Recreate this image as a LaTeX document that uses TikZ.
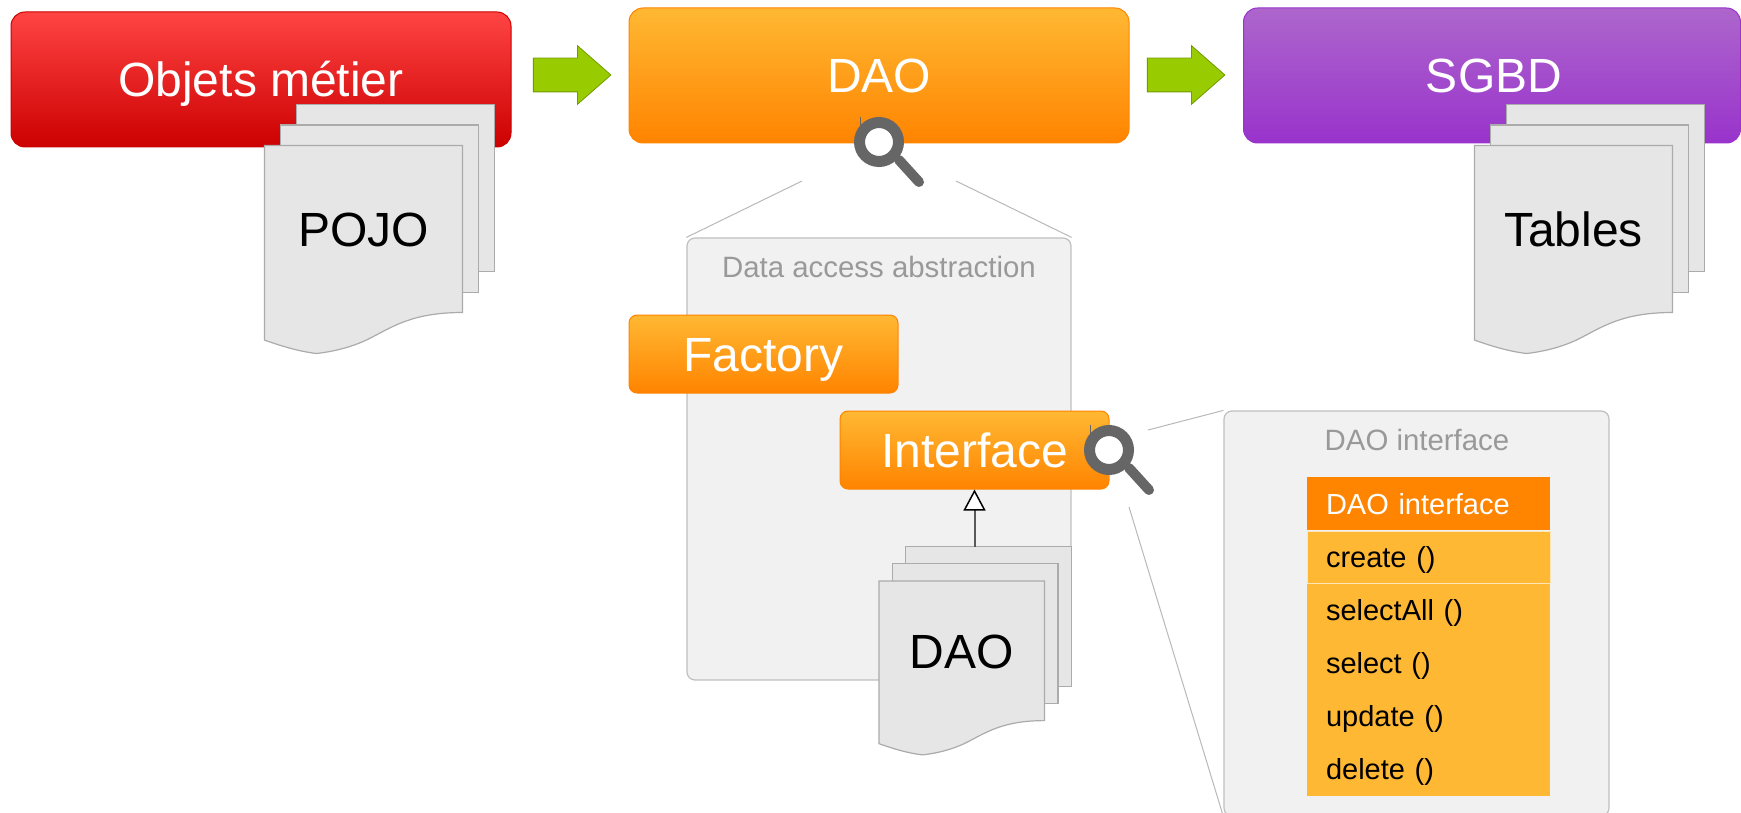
\documentclass[tikz,border=0pt]{standalone}
\usepackage{fontspec}
\setmainfont{Liberation Sans}
\usepackage{xcolor}
\usetikzlibrary{arrows.meta, shapes.arrows}

\definecolor{daotop}{HTML}{FFB833}
\definecolor{daobottom}{HTML}{FF8400}
\definecolor{redtop}{HTML}{FF4444}
\definecolor{redbottom}{HTML}{CC0000}
\definecolor{sgbdtop}{HTML}{AD66CC}
\definecolor{sgbdbottom}{HTML}{9933CC}
\definecolor{panelfill}{HTML}{F1F1F1}
\definecolor{sheetfill}{HTML}{E6E6E6}
\definecolor{flowgreen}{HTML}{99CC00}

\tikzset{
	bigfont/.style = {font = \fontsize{48}{56}\selectfont, text height = 34, text depth = 0},
	smallfont/.style = {font = \fontsize{29.4}{35}\selectfont, text height = 21, text depth = 0},
	block/.style = {bigfont, text = white, inner sep = 0, line width = 1},
	topblock/.style = {block, rounded corners = 14, minimum height = 135},
	subblock/.style = {block, rounded corners = 8, minimum width = 269, minimum height = 78,
		draw = daobottom, top color = daotop, bottom color = daobottom},
	panel/.style = {draw = black!25, fill = panelfill, line width = 1.2, rounded corners = 8, inner sep = 0},
	paneltitle/.style = {smallfont, text = black!40, inner sep = 0},
	zoomline/.style = {draw = black!28, line width = 1},
	sheet/.style = {draw = black!33, fill = sheetfill, line width = 1.2},
	flowarrow/.style = {single arrow, draw = flowgreen!75!black, fill = flowgreen, line width = 0.8, inner sep = 0,
		text height = 16.5, text depth = 16.5, minimum width = 58, minimum height = 77.5,
		single arrow head extend = 12.5, single arrow tip angle = 82.6},
	row/.style = {font = \fontsize{29}{35}\selectfont, text height = 21, text depth = 0, fill = daotop,
		minimum height = 53, text width = 205, inner xsep = 19, inner ysep = 0, align = left}
}

\begin{document}
\begin{tikzpicture}[x = 1pt, y = -1pt]
	\useasboundingbox (0,0) rectangle (1741,813);
	\clip (0,0) rectangle (1741,813);

	\node [topblock, minimum width = 500, draw = redbottom, top color = redtop, bottom color = redbottom] (objets) at (261,79.5) {Objets métier};
	\node [topblock, minimum width = 500, draw = daobottom, top color = daotop, bottom color = daobottom] (dao) at (879,75.5) {DAO};
	\node [topblock, minimum width = 497, draw = sgbdbottom, top color = sgbdtop, bottom color = sgbdbottom] (sgbd) at (1492,75.5) {\hspace*{4pt}SGBD};

	\node [flowarrow] (flowA) at (562.5,75) {};
	\node [flowarrow] (flowB) at (1176.5,75) {};

	\node [panel, minimum width = 384, minimum height = 442] (abstraction) at (879,459) {};
	\node [paneltitle] (abstractiontitle) at (879,267) {Data access abstraction};
	\node [panel, minimum width = 385, minimum height = 405] (interfacepanel) at (1416.5,613.5) {};
	\node [paneltitle] (interfacetitle) at (1417,440) {DAO interface};

	\coordinate (lensleft) at (802,181);
	\coordinate (lensright) at (956,181);
	\coordinate (lenstop) at (1148,430);
	\coordinate (lensbottom) at (1129,507);
	\draw [zoomline] (lensleft) -- (abstraction.north west);
	\draw [zoomline] (lensright) -- (abstraction.north east);
	\draw [zoomline] (lenstop) -- (interfacepanel.north west);
	\draw [zoomline] (lensbottom) -- (interfacepanel.south west);

	\node [subblock] (factory) at (763.5,354) {Factory};
	\node [subblock] (interface) at (974.5,450) {Interface};

	% stacks of sheets
	\foreach \name/\x/\y/\s/\t in {pojo/264.5/145.5/1/POJO, tables/1474.5/145.5/1/Tables, daos/879/581/0.836/DAO}
	{
		\begin{scope}[shift = {(\x,\y)}, scale = \s]
			\coordinate (\name-back) at (32,-41);
			\draw [sheet] (32,-41) rectangle (230,126);
			\draw [sheet] (16,-20.5) rectangle (214,147);
			\draw [sheet] (0,0) -- (198,0) -- (198,167)
				.. controls (150,167) and (130,180) .. (107,192)
				.. controls (90,201) and (70,206) .. (52,208)
				.. controls (35,206) and (18,201) .. (0,194.6) -- cycle;
			\node [bigfont, inner sep = 0] (\name) at (99,84) {\t};
		\end{scope}
	}

	\draw [black!65, line width = 2, -{Triangle[open, color = black, fill = white, length = 21pt, width = 22pt, line width = 1.5pt]}] (interface.south |- daos-back) -- (interface.south);

	% magnifying glasses
	\foreach \x/\y in {879/142, 1109/450}
	{
		\begin{scope}[shift = {(\x,\y)}]
			\draw [black!60, line width = 0.8] (-19,-25) -- (-19,-15);
			\draw [black!60, fill = white, line width = 11] (0,0) circle (19.5);
			\draw [black!60, line width = 10, line cap = round] (20,18) -- (40,40);
		\end{scope}
	}

	% table of the interface
	\foreach \name/\y/\t in {selectall/610/selectAll (), selectone/663/select (), update/716/update (), delete/769/delete ()}
	{
		\node [row] (\name) at (1428.5,\y) {\t};
	}
	\node [row, draw = daotop!35!white, line width = 1, minimum height = 52] (create) at (1428.5,557) {create ()};
	\node [row, fill = daobottom, text = white] (header) at (1428.5,503.5) {DAO interface};
\end{tikzpicture}
\end{document}
